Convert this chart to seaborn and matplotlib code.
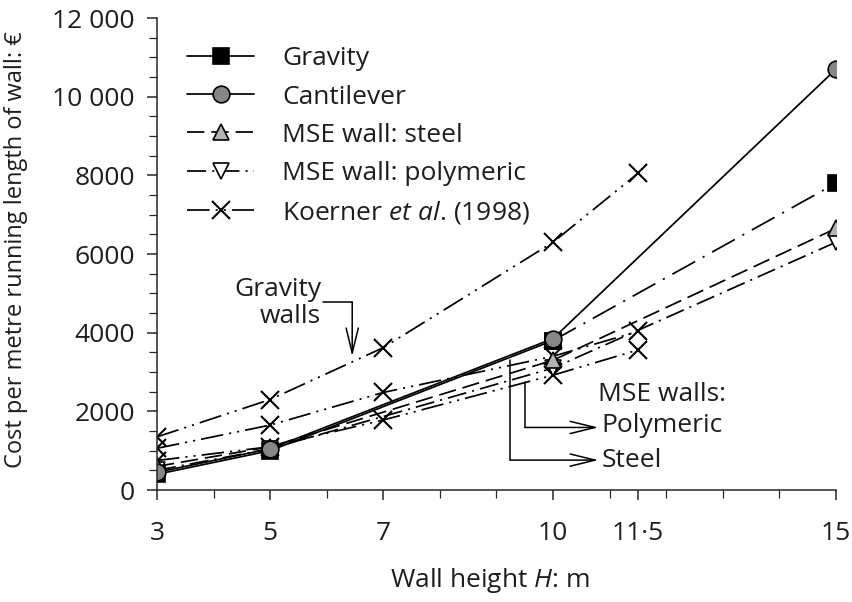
import matplotlib
matplotlib.use('Agg')
import matplotlib.pyplot as plt
import seaborn as sns

# ---------------- data ----------------
H_main = [3, 5, 10, 15]
gravity = [400, 1000, 3800, 7800]
cantilever = [450, 1050, 3850, 10700]
mse_steel = [600, 1100, 3300, 6650]
mse_poly = [500, 1050, 3100, 6300]

H_koerner = [3, 5, 7, 10, 11.5]
koerner_gravity = [1350, 2300, 3620, 6300, 8050]
koerner_steel = [1060, 1650, 2480, 3400, 4030]
koerner_poly = [750, 1100, 1780, 2920, 3560]

x_major = [3, 5, 7, 10, 11.5, 15]
x_major_labels = ['3', '5', '7', '10', '11·5', '15']
x_minor = [4, 6, 8, 9, 11, 12, 13, 14]
y_major = [0, 2000, 4000, 6000, 8000, 10000, 12000]
y_major_labels = ['0', '2000', '4000', '6000', '8000', '10 000', '12 000']
y_minor = [500, 1000, 1500, 2500, 3000, 3500, 4500, 5000, 5500, 6500, 7000,
           7500, 8500, 9000, 9500, 10500, 11000, 11500]

# ---------------- style ----------------
sns.set_style('ticks')
plt.rcParams['font.family'] = ['Open Sans', 'DejaVu Sans']
plt.rcParams['mathtext.fontset'] = 'custom'
plt.rcParams['mathtext.it'] = 'Open Sans:italic'
plt.rcParams['mathtext.rm'] = 'Open Sans'
TXT = '#1e1e1e'
FS = 19

fig = plt.figure(figsize=(8.52, 6.02), dpi=100)
ax = fig.add_axes([157 / 852, 1 - 490 / 602, (836 - 157) / 852, (490 - 18) / 602])

lw = 1.25
ls_grav_ext = (0, (15, 5, 1.2, 5))
ls_steel = (0, (10, 4))
ls_poly = (0, (11, 3.5, 1.2, 3.5))
ls_koer = (0, (13, 3.5, 1.2, 3.5, 1.2, 3.5))

common = dict(ax=ax, estimator=None, sort=False, errorbar=None, lw=lw, color='black',
              markeredgecolor='black', markeredgewidth=1.2)

# Koerner et al. curves
for i, kv in enumerate([koerner_gravity, koerner_steel, koerner_poly]):
    sns.lineplot(x=H_koerner, y=kv, marker='x', markersize=13, markeredgewidth=1.5,
                 linestyle=ls_koer, label='Koerner $\\it{et\\ al}$. (1998)' if i == 0 else None,
                 **{k: v for k, v in common.items() if k != 'markeredgewidth'})

sns.lineplot(x=H_main, y=mse_poly, marker='v', markersize=12, markerfacecolor='white',
             linestyle=ls_poly, label='MSE wall: polymeric', **common)
sns.lineplot(x=H_main, y=mse_steel, marker='^', markersize=12, markerfacecolor='#b4b4b4',
             linestyle=ls_steel, label='MSE wall: steel', **common)
sns.lineplot(x=H_main[2:], y=gravity[2:], marker='s', markersize=11, markerfacecolor='black',
             linestyle=ls_grav_ext, **common)
sns.lineplot(x=H_main[:3], y=gravity[:3], marker='s', markersize=11, markerfacecolor='black',
             linestyle='-', label='Gravity', **common)
sns.lineplot(x=H_main, y=cantilever, marker='o', markersize=12, markerfacecolor='#878787',
             linestyle='-', label='Cantilever', **common)

# ---------------- axes ----------------
ax.set_xlim(3, 15)
ax.set_ylim(0, 12000)
sns.despine(ax=ax)
ax.spines['left'].set_linewidth(1.1)
ax.spines['bottom'].set_linewidth(1.1)
ax.set_xticks(x_major)
ax.set_xticklabels(x_major_labels)
ax.set_xticks(x_minor, minor=True)
ax.set_yticks(y_major)
ax.set_yticklabels(y_major_labels)
ax.set_yticks(y_minor, minor=True)
ax.tick_params(axis='x', which='major', direction='out', length=7, width=1.1, pad=15,
               labelsize=FS, labelcolor=TXT)
ax.tick_params(axis='x', which='minor', direction='out', length=6, width=0.9)
ax.tick_params(axis='y', which='major', direction='out', length=7, width=1.1, pad=9,
               labelsize=FS, labelcolor=TXT)
ax.tick_params(axis='y', which='minor', direction='out', length=6, width=0.9)

ax.set_xlabel('Wall height $\\it{H}$: m', fontsize=FS, color=TXT)
ax.xaxis.set_label_coords(0.49, -0.16)
ax.set_ylabel('Cost per metre running length of wall: €', fontsize=17, color=TXT)
ax.yaxis.set_label_coords(-0.19, 0.51)

# ---------------- legend ----------------
handles, labels = ax.get_legend_handles_labels()
order = ['Gravity', 'Cantilever', 'MSE wall: steel', 'MSE wall: polymeric',
         'Koerner $\\it{et\\ al}$. (1998)']
hmap = dict(zip(labels, handles))
leg = ax.legend([hmap[o] for o in order], order, loc='upper left',
                bbox_to_anchor=(0.044, 0.94), frameon=False, fontsize=FS,
                handlelength=2.55, handletextpad=1.05, labelspacing=0.5, borderpad=0,
                borderaxespad=0)
for t in leg.get_texts():
    t.set_color(TXT)

# ---------------- annotations ----------------
arrow_kw = dict(arrowstyle='->,head_length=0.9,head_width=0.22', lw=1.1, color='black',
                mutation_scale=20, shrinkA=0, shrinkB=0)
# Gravity walls
ax.text(5.9, 4750, 'Gravity\nwalls', ha='right', va='center', multialignment='right',
        fontsize=FS, color=TXT, linespacing=1.1)
ax.plot([5.94, 6.45], [4780, 4780], color='black', lw=1.1)
ax.annotate('', xy=(6.45, 3400), xytext=(6.45, 4780), arrowprops=arrow_kw)

# MSE walls
ax.text(10.79, 2420, 'MSE walls:', ha='left', va='center', fontsize=FS, color=TXT)
ax.text(10.86, 1630, 'Polymeric', ha='left', va='center', fontsize=FS, color=TXT)
ax.text(10.86, 760, 'Steel', ha='left', va='center', fontsize=FS, color=TXT)
ax.plot([9.50, 9.50], [2745, 1590], color='black', lw=1.1)
ax.annotate('', xy=(10.8, 1590), xytext=(9.50, 1590), arrowprops=arrow_kw)
ax.plot([9.24, 9.24], [3305, 760], color='black', lw=1.1)
ax.annotate('', xy=(10.8, 760), xytext=(9.24, 760), arrowprops=arrow_kw)

fig.savefig('out.png', dpi=100)
